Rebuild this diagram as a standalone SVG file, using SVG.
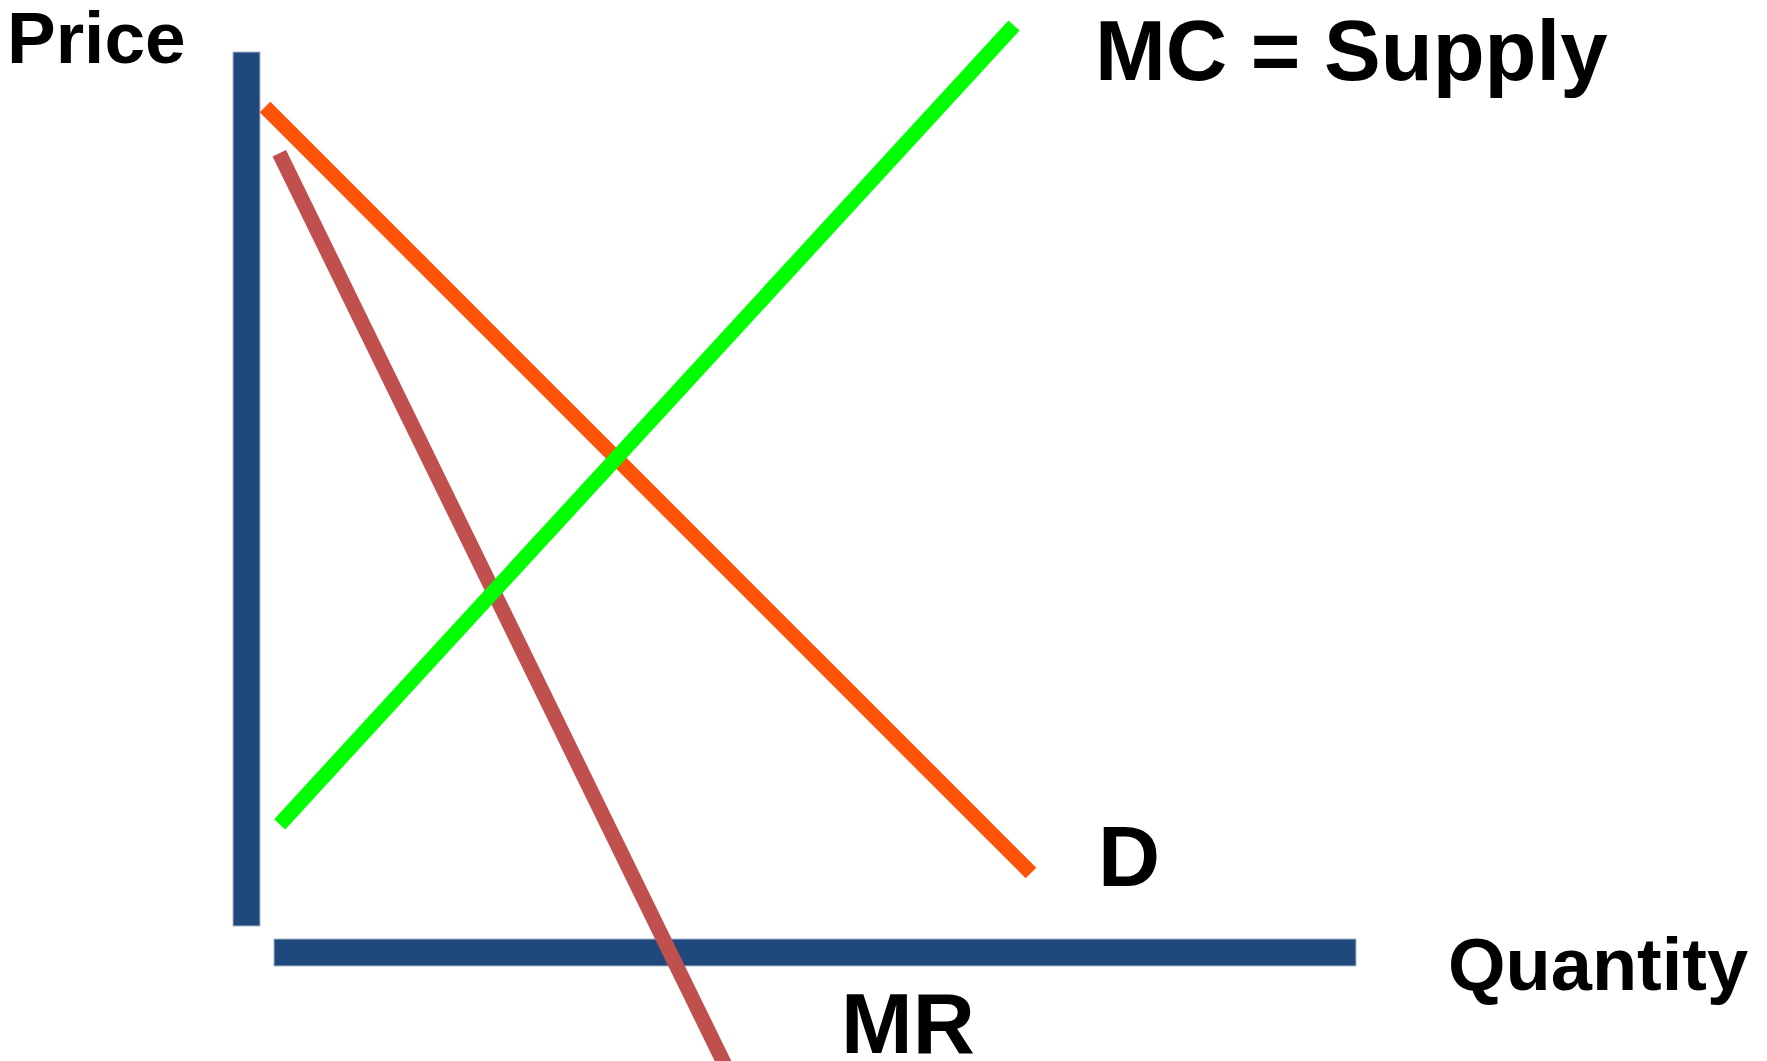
<svg xmlns="http://www.w3.org/2000/svg" width="1767" height="1061" viewBox="0 0 1767 1061">
<style>
.axis{fill:#1F497D;stroke:#A9B8CE;stroke-width:1}
.curve{fill:none;stroke-width:15;stroke-linecap:butt}
.lbl{font-family:"Liberation Sans",Arial,sans-serif;font-weight:bold;fill:#000}
</style>
<rect width="1767" height="1061" fill="#ffffff"/>
<g id="axes">
<rect id="price-axis" class="axis" x="233" y="52" width="27" height="874"/>
<rect id="quantity-axis" class="axis" x="274" y="939" width="1082" height="27"/>
</g>
<g id="connectors">
<line id="mr-curve" class="curve" stroke="#C0504D" x1="279.3" y1="153.3" x2="727.4" y2="1070"/>
<line id="demand-curve" class="curve" stroke="#FF5309" x1="265" y1="107" x2="1031" y2="873"/>
<line id="mc-curve" class="curve" stroke="#00FF00" x1="279.7" y1="824.3" x2="1014" y2="25.5"/>
</g>
<g id="label-price"><text class="lbl" x="7" y="63" font-size="73">Price</text></g>
<g id="label-mc"><text class="lbl" x="1095" y="80" font-size="85">MC = Supply</text></g>
<g id="label-d"><text class="lbl" x="1098" y="886" font-size="86">D</text></g>
<g id="label-quantity"><text class="lbl" x="1448" y="990" font-size="74">Quantity</text></g>
<g id="label-mr"><text class="lbl" x="841" y="1053" font-size="86">MR</text></g>
</svg>
